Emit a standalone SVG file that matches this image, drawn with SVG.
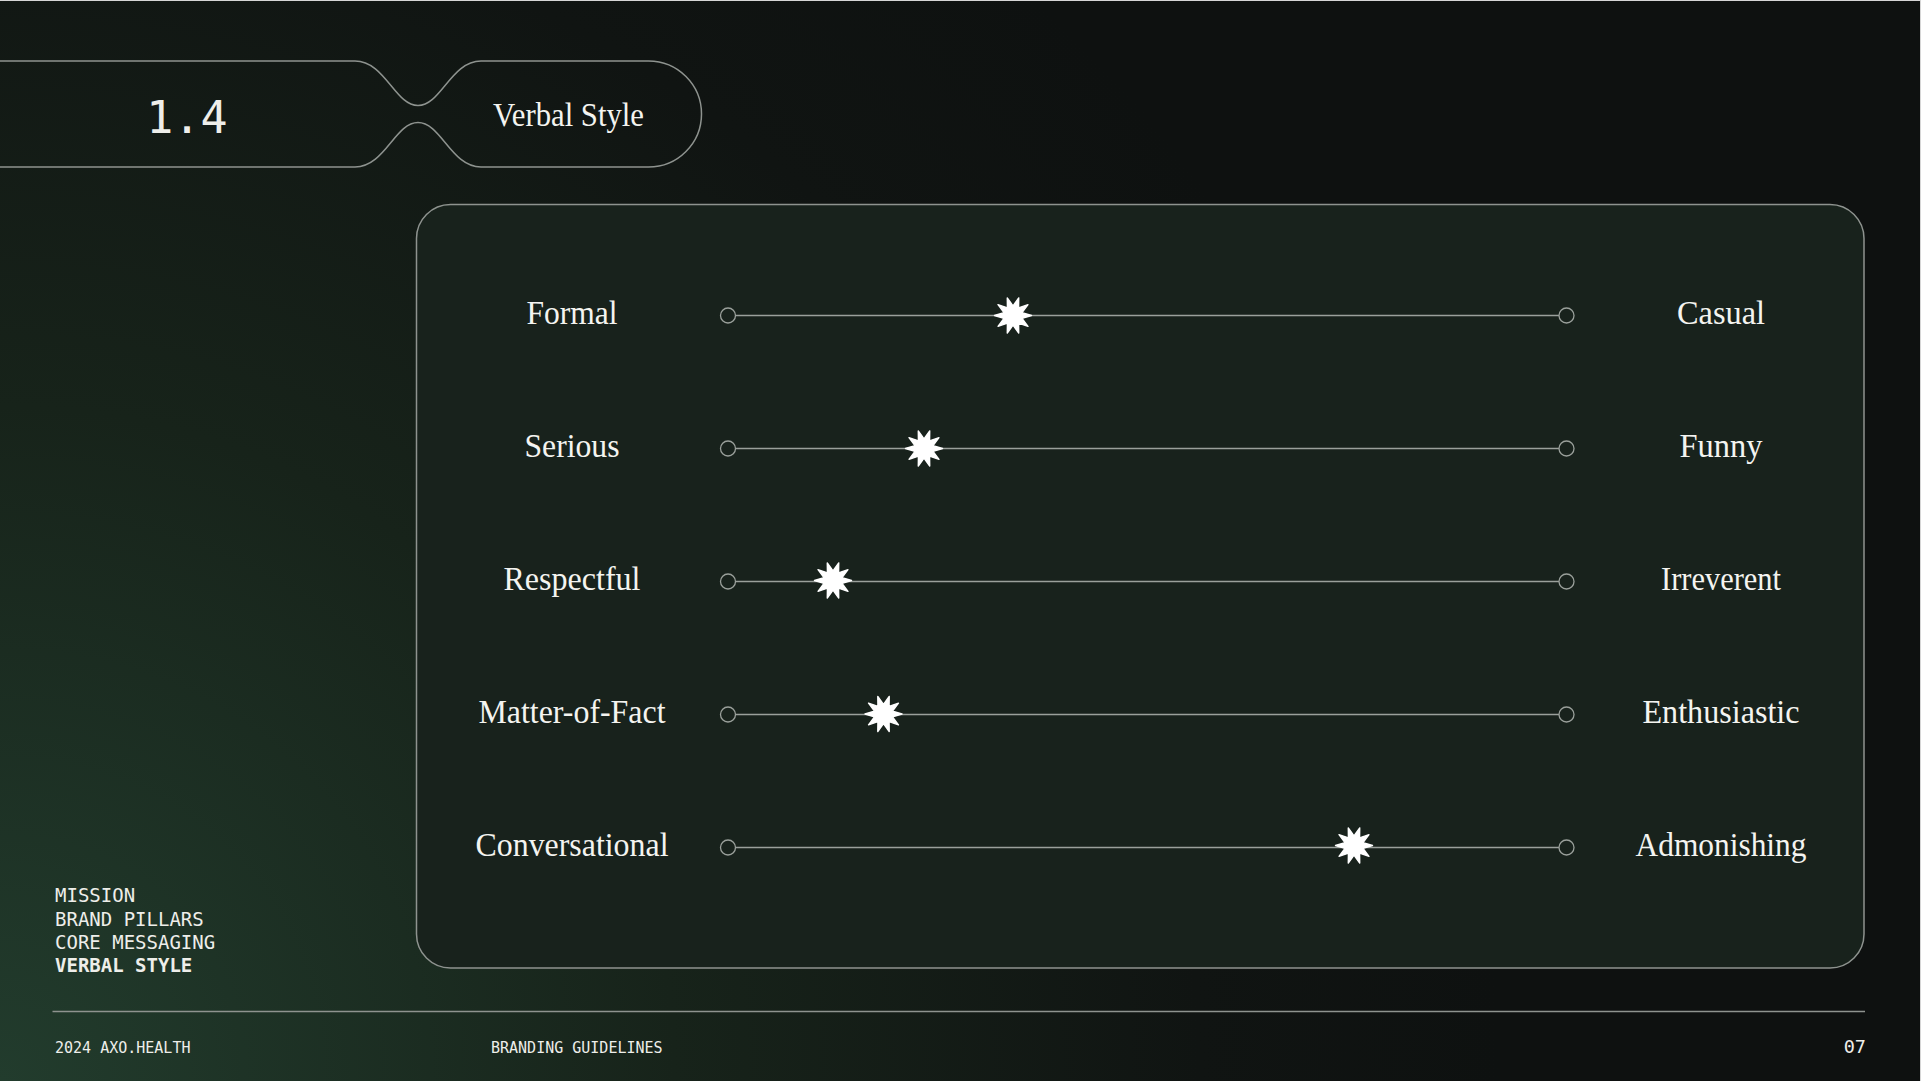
<svg xmlns="http://www.w3.org/2000/svg" width="1921" height="1081" viewBox="0 0 1921 1081">
  <defs>
    <radialGradient id="bg" cx="0" cy="1081" r="1500" gradientUnits="userSpaceOnUse">
      <stop offset="0" stop-color="#223c2d"/>
      <stop offset="0.45" stop-color="#17231a"/>
      <stop offset="0.8" stop-color="#101412"/>
      <stop offset="1" stop-color="#0e1110"/>
    </radialGradient>
    <path id="star" d="M18.5,0 L9.04,2.94 L14.97,10.87 L5.58,7.69 L5.72,17.59 L0,9.5 L-5.72,17.59 L-5.58,7.69 L-14.97,10.87 L-9.04,2.94 L-18.5,0 L-9.04,-2.94 L-14.97,-10.87 L-5.58,-7.69 L-5.72,-17.59 L0,-9.5 L5.72,-17.59 L5.58,-7.69 L14.97,-10.87 L9.04,-2.94 Z"/>
    <style>
      .outline { fill: none; stroke: #8e938f; stroke-width: 1.5; }
      .track { stroke: #9aa09b; stroke-width: 1.3; fill: none; }
      .knob { fill: #18221c; stroke: #9aa09b; stroke-width: 1.3; }
      .marker { fill: #ffffff; stroke: #ffffff; stroke-width: 1.4; stroke-linejoin: round; }
      .serif { font-family: "Liberation Serif", "Times New Roman", serif; fill: #f4f4f0; font-size: 33px; text-anchor: middle; }
      .mono { font-family: "DejaVu Sans Mono", "Liberation Mono", monospace; fill: #eeeeea; }
    </style>
  </defs>

  <rect x="0" y="0" width="1921" height="1081" fill="#d6d6d6"/>
  <rect x="0" y="1" width="1920" height="1080" fill="url(#bg)"/>

  <g id="header-tab">
    <path class="outline" d="M-10,61 H355 C385,61 395,105.5 418,105.5 C441,105.5 451,61 481,61 H648.5 A53,53 0 0 1 648.5,167 H481 C451,167 441,122.5 418,122.5 C395,122.5 385,167 355,167 H-10"/>
    <text class="mono" x="187" y="133" font-size="45" text-anchor="middle">1.4</text>
    <text class="serif" x="568.5" y="126" textLength="151" lengthAdjust="spacingAndGlyphs">Verbal Style</text>
  </g>

  <g id="card">
    <rect x="416.5" y="204.5" width="1447.5" height="763.5" rx="34" ry="34" fill="#18221c" stroke="#8e938f" stroke-width="1.5"/>
  </g>

  <g id="connectors">
    <line class="track" x1="735.5" y1="315.5" x2="1559" y2="315.5"/>
    <line class="track" x1="735.5" y1="448.5" x2="1559" y2="448.5"/>
    <line class="track" x1="735.5" y1="581.5" x2="1559" y2="581.5"/>
    <line class="track" x1="735.5" y1="714.5" x2="1559" y2="714.5"/>
    <line class="track" x1="735.5" y1="847.5" x2="1559" y2="847.5"/>
  </g>

  <g id="row-formal-casual">
    <text class="serif" x="572" y="323.5" textLength="91" lengthAdjust="spacingAndGlyphs">Formal</text>
    <circle class="knob" cx="728" cy="315.5" r="7.5"/>
    <circle class="knob" cx="1566.5" cy="315.5" r="7.5"/>
    <use href="#star" class="marker" x="1013" y="315.5"/>
    <text class="serif" x="1721" y="323.5" textLength="88" lengthAdjust="spacingAndGlyphs">Casual</text>
  </g>

  <g id="row-serious-funny">
    <text class="serif" x="572" y="456.5" textLength="95" lengthAdjust="spacingAndGlyphs">Serious</text>
    <circle class="knob" cx="728" cy="448.5" r="7.5"/>
    <circle class="knob" cx="1566.5" cy="448.5" r="7.5"/>
    <use href="#star" class="marker" x="924" y="448.5"/>
    <text class="serif" x="1721" y="456.5" textLength="83" lengthAdjust="spacingAndGlyphs">Funny</text>
  </g>

  <g id="row-respectful-irreverent">
    <text class="serif" x="572" y="589.5" textLength="137" lengthAdjust="spacingAndGlyphs">Respectful</text>
    <circle class="knob" cx="728" cy="581.5" r="7.5"/>
    <circle class="knob" cx="1566.5" cy="581.5" r="7.5"/>
    <use href="#star" class="marker" x="833" y="580.5"/>
    <text class="serif" x="1721" y="589.5" textLength="120" lengthAdjust="spacingAndGlyphs">Irreverent</text>
  </g>

  <g id="row-matteroffact-enthusiastic">
    <text class="serif" x="572" y="722.5" textLength="187" lengthAdjust="spacingAndGlyphs">Matter-of-Fact</text>
    <circle class="knob" cx="728" cy="714.5" r="7.5"/>
    <circle class="knob" cx="1566.5" cy="714.5" r="7.5"/>
    <use href="#star" class="marker" x="883.5" y="714"/>
    <text class="serif" x="1721" y="722.5" textLength="157" lengthAdjust="spacingAndGlyphs">Enthusiastic</text>
  </g>

  <g id="row-conversational-admonishing">
    <text class="serif" x="572" y="855.5" textLength="193" lengthAdjust="spacingAndGlyphs">Conversational</text>
    <circle class="knob" cx="728" cy="847.5" r="7.5"/>
    <circle class="knob" cx="1566.5" cy="847.5" r="7.5"/>
    <use href="#star" class="marker" x="1354" y="845.5"/>
    <text class="serif" x="1721" y="855.5" textLength="171" lengthAdjust="spacingAndGlyphs">Admonishing</text>
  </g>

  <g id="nav">
    <text class="mono" x="55" y="902" font-size="19">MISSION</text>
    <text class="mono" x="55" y="925.5" font-size="19">BRAND PILLARS</text>
    <text class="mono" x="55" y="949" font-size="19">CORE MESSAGING</text>
    <text class="mono" x="55" y="971.5" font-size="19" font-weight="bold" fill="#ffffff">VERBAL STYLE</text>
  </g>

  <g id="footer">
    <line x1="52.5" y1="1011.5" x2="1865" y2="1011.5" stroke="#8e938f" stroke-width="1.3"/>
    <text class="mono" x="55" y="1053" font-size="15">2024 AXO.HEALTH</text>
    <text class="mono" x="491" y="1053" font-size="15">BRANDING GUIDELINES</text>
    <text class="mono" x="1866" y="1052.5" font-size="18.5" text-anchor="end">07</text>
  </g>
</svg>
